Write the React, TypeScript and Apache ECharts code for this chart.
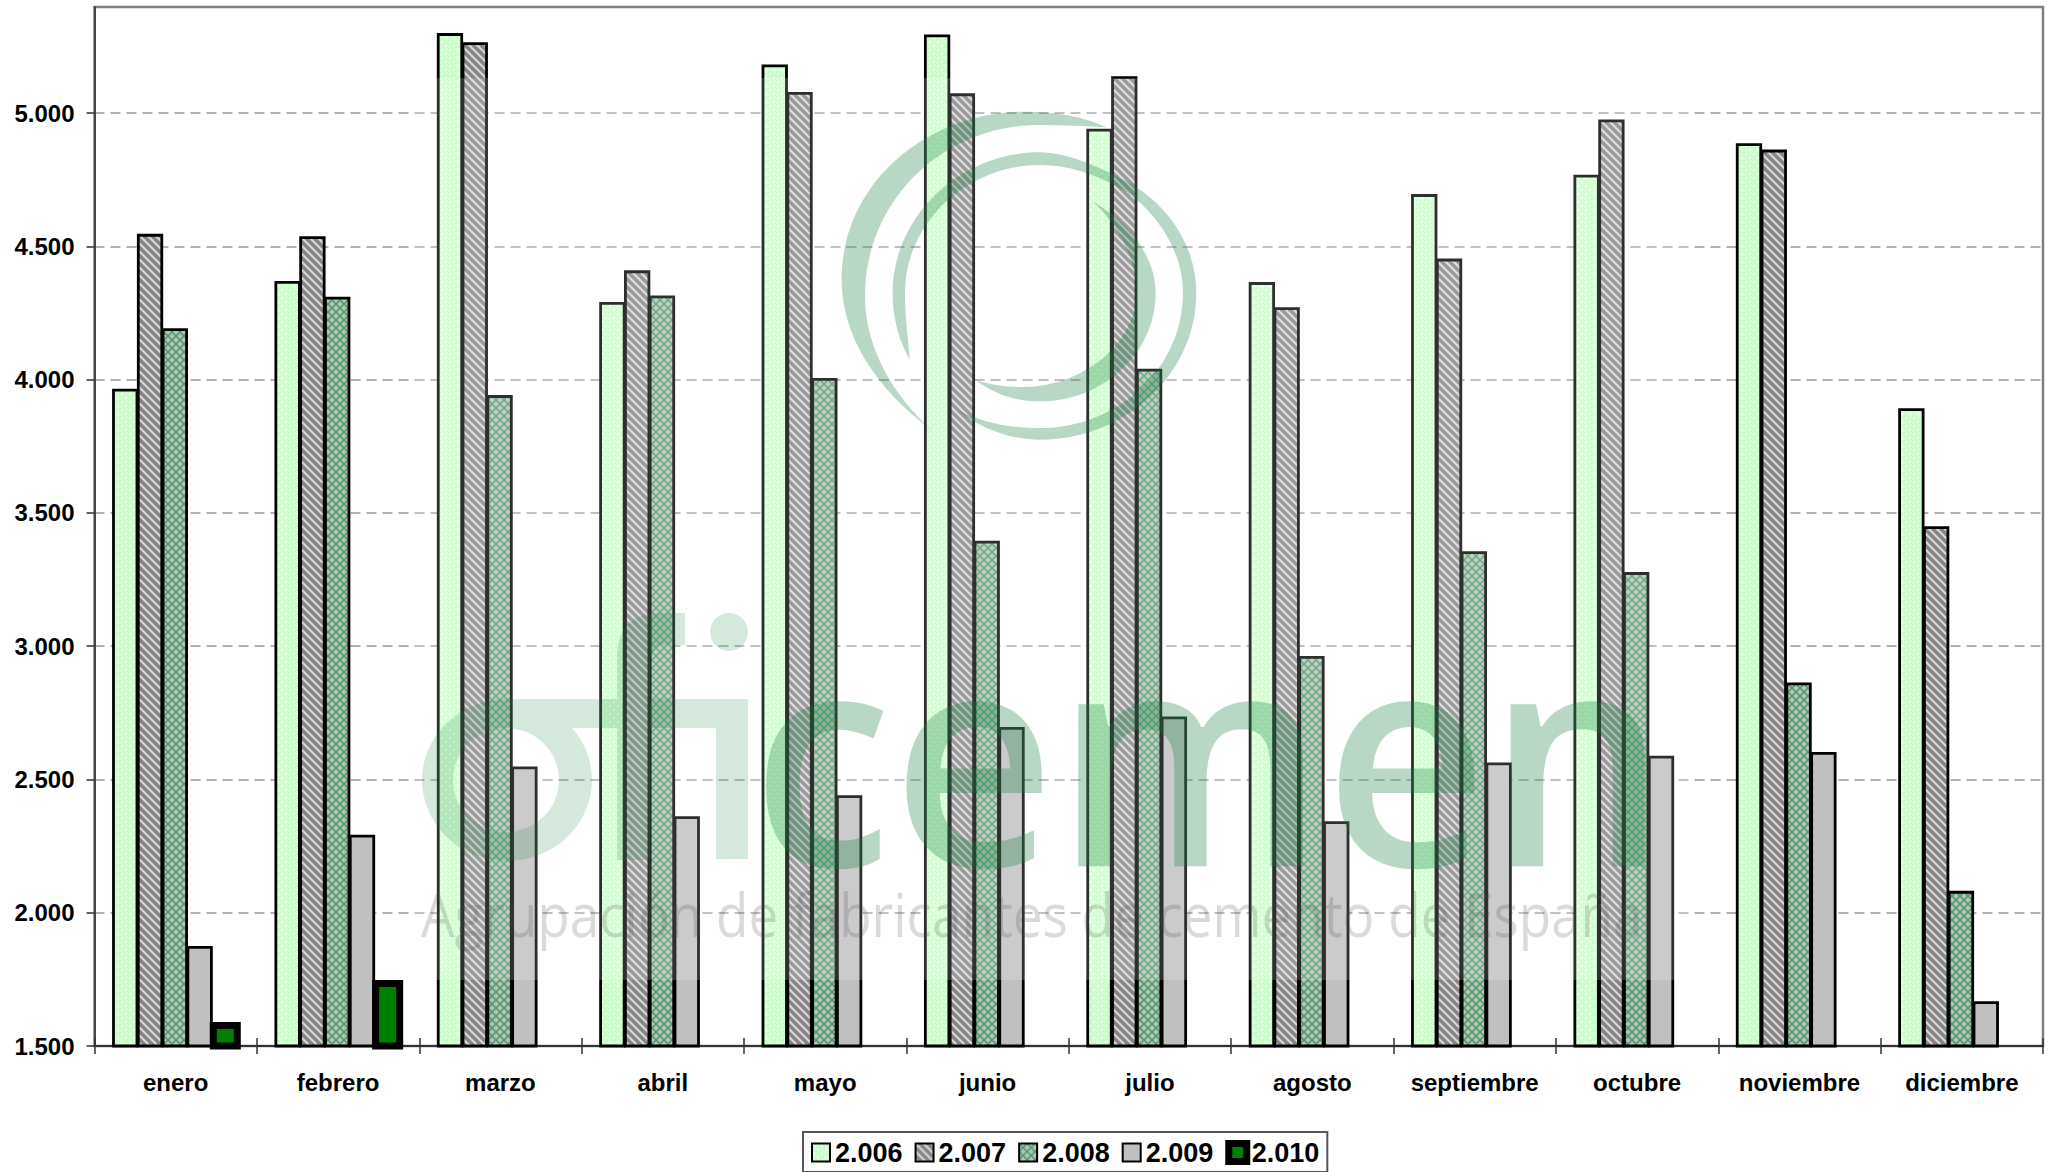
import React, { useEffect, useRef } from "react";
import * as echarts from "echarts";

const categories = ["enero", "febrero", "marzo", "abril", "mayo", "junio", "julio", "agosto", "septiembre", "octubre", "noviembre", "diciembre"];
const years = ["2.006", "2.007", "2.008", "2.009", "2.010"];
const v2006 = [3966, 4370, 5300, 4291, 5182, 5295, 4941, 4366, 4696, 4769, 4887, 3893];
const v2007 = [4547, 4538, 5266, 4410, 5079, 5074, 5138, 4272, 4454, 4976, 4863, 3450];
const v2008 = [4193, 4311, 3942, 4316, 4006, 3396, 4041, 2963, 3356, 3278, 2864, 2082];
const v2009 = [1875, 2293, 2549, 2362, 2441, 2697, 2736, 2343, 2564, 2589, 2603, 1668];
const v2010 = [1590, 1748, null, null, null, null, null, null, null, null, null, null];
const emptySlot = categories.map(() => null);
const yTicks = [1500, 2000, 2500, 3000, 3500, 4000, 4500, 5000];

const tile = (draw: (c: CanvasRenderingContext2D) => void) => {
  const cv = document.createElement("canvas");
  cv.width = 8;
  cv.height = 8;
  draw(cv.getContext("2d")!);
  return { type: "pattern", image: cv, repeat: "repeat", imageWidth: 8, imageHeight: 8 } as any;
};

const fmt = (v: number) => String(v).replace(/(\d)(\d{3})$/, "$1.$2");

const sphereA = "M395 1020 C230 900 125 740 125 570 C125 280 380 65 680 65 C770 65 860 82 920 112 C850 108 790 105 720 105 C420 105 195 340 195 620 C195 770 280 920 395 1020 Z";
const sphereB = "M330 810 C295 750 278 680 278 610 C278 380 480 187 720 187 C800 187 900 230 1000 285 C1120 360 1190 480 1190 610 C1190 850 980 1050 720 1050 C630 1050 540 1015 470 960 C550 1000 630 1015 720 1015 C960 1015 1150 830 1150 610 C1150 480 1070 370 980 305 C890 250 800 225 720 225 C500 225 315 400 315 610 C315 680 325 750 330 810 Z";
const sphereC = "M880 335 C990 400 1068 500 1068 610 C1068 790 910 935 720 935 C640 935 580 910 525 870 C570 885 620 892 665 892 C850 892 1010 760 1010 610 C1010 510 960 410 880 335 Z";
const wordLeft =
  "M422 780 A85 81 0 1 1 592 780 A85 81 0 1 1 422 780 Z " +
  "M453 780 A53 52 0 1 0 559 780 A53 52 0 1 0 453 780 Z " +
  "M507 699 L748 699 L748 859 L716 859 L716 728 L507 728 Z " +
  "M617 860 L617 660 C617 630 630 613 660 613 L685 613 L685 645 L665 645 C655 645 650 650 650 665 L650 860 Z " +
  "M710 632 A19 19 0 1 1 748 632 A19 19 0 1 1 710 632 Z";

echarts.graphic.registerShape("spiralA", echarts.graphic.extendPath(sphereA, {}) as any);
echarts.graphic.registerShape("spiralB", echarts.graphic.extendPath(sphereB, {}) as any);
echarts.graphic.registerShape("spiralC", echarts.graphic.extendPath(sphereC, {}) as any);
echarts.graphic.registerShape("wordLeft", echarts.graphic.extendPath(wordLeft, {}) as any);

export default function App() {
  const ref = useRef<HTMLDivElement>(null);
  useEffect(() => {
    const chart = echarts.init(ref.current!, undefined, { renderer: "svg" });

    const p2006 = tile((c) => {
      c.fillStyle = "#CCFFCC";
      c.fillRect(0, 0, 8, 8);
      c.fillStyle = "#F4FFF4";
      c.fillRect(1, 1, 2, 2);
      c.fillRect(5, 5, 2, 2);
    });
    const p2007 = tile((c) => {
      c.fillStyle = "#868686";
      c.fillRect(0, 0, 8, 8);
      c.strokeStyle = "#DADADA";
      c.lineWidth = 2;
      c.beginPath();
      c.moveTo(-2, -2);
      c.lineTo(10, 10);
      c.moveTo(-2, 6);
      c.lineTo(2, 10);
      c.moveTo(6, -2);
      c.lineTo(10, 2);
      c.stroke();
    });
    const p2008 = tile((c) => {
      c.fillStyle = "#BDBDBD";
      c.fillRect(0, 0, 8, 8);
      c.strokeStyle = "#3F9F5F";
      c.lineWidth = 1.5;
      c.beginPath();
      c.moveTo(0, 0);
      c.lineTo(8, 8);
      c.moveTo(8, 0);
      c.lineTo(0, 8);
      c.stroke();
    });

    const bar = (name: string, data: (number | null)[], color: any, width = 26.3) => ({
      name,
      type: "bar",
      data,
      xAxisIndex: 0,
      barWidth: width,
      barGap: "-5.7%",
      itemStyle: { color, borderColor: "#000", borderWidth: 2.8 },
    });

    const green = "rgba(20,125,62,0.3)";
    const light = "rgba(20,125,62,0.18)";

    chart.setOption({
      animation: false,
      backgroundColor: "#fff",
      grid: { left: 94.5, right: 13, top: 7, height: 1039, show: true, borderColor: "#808080", borderWidth: 2.5, backgroundColor: "#fff" },
      legend: {
        left: 803,
        top: 1132,
        padding: [7, 8, 6, 8],
        orient: "horizontal",
        itemWidth: 18,
        itemHeight: 18,
        itemGap: 12,
        icon: "rect",
        borderColor: "#555",
        borderWidth: 2,
        selectedMode: false,
        data: years.map((name, i) => (i === 4 ? { name, itemStyle: { borderWidth: 7, borderColor: "#000" } } : { name })),
        textStyle: { fontFamily: "Liberation Sans", fontWeight: "bold", fontSize: 27, color: "#000" },
      },
      xAxis: [
        {
          type: "category",
          data: categories,
          position: "bottom",
          axisLine: { show: true, lineStyle: { color: "#333", width: 2 } },
          axisTick: { show: true, length: 8, lineStyle: { color: "#333", width: 1.5 } },
          axisLabel: { fontFamily: "Liberation Sans", fontWeight: "bold", fontSize: 24, color: "#000", margin: 24, interval: 0 },
        },
        {
          type: "category",
          data: categories,
          position: "bottom",
          axisLine: { show: false },
          axisTick: { show: true, inside: true, length: 8, lineStyle: { color: "#333", width: 1.5 } },
          axisLabel: { show: false },
        },
      ],
      yAxis: {
        type: "value",
        min: 1500,
        max: 5398,
        interval: 500,
        axisLine: { show: true, lineStyle: { color: "#444", width: 2 } },
        axisTick: { show: true, length: 8, customValues: yTicks, lineStyle: { color: "#333", width: 1.5 } },
        axisLabel: { fontFamily: "Liberation Sans", fontWeight: "bold", fontSize: 24, color: "#000", margin: 20, customValues: yTicks, formatter: (v: number) => fmt(v) },
        splitLine: { show: true, lineStyle: { color: "#999", width: 1.5, type: [10, 6] } },
      },
      series: [
        bar(years[0], v2006, p2006),
        bar(years[1], v2007, p2007),
        bar(years[2], v2008, p2008),
        bar(years[3], v2009, "#C0C0C0"),
        bar("slot", emptySlot, "#fff", 28),
        { name: "offset", type: "bar", data: emptySlot, xAxisIndex: 1, barWidth: 99.2, barGap: 0, itemStyle: { color: "#fff" } },
        { name: years[4], type: "bar", data: v2010, xAxisIndex: 1, barWidth: 31, barGap: 0, itemStyle: { color: "#008000", borderColor: "#000", borderWidth: 7 } },
      ],
      graphic: [
        { type: "rect", z: 50, silent: true, shape: { x: 410, y: 78, width: 1280, height: 902 }, style: { fill: "rgba(255,255,255,0.18)" } },
        { type: "spiralA", z: 51, silent: true, x: 800, y: 90, scaleX: 1 / 3, scaleY: 1 / 3, style: { fill: green } },
        { type: "spiralB", z: 51, silent: true, x: 800, y: 90, scaleX: 1 / 3, scaleY: 1 / 3, style: { fill: green } },
        { type: "spiralC", z: 51, silent: true, x: 800, y: 90, scaleX: 1 / 3, scaleY: 1 / 3, style: { fill: green } },
        { type: "wordLeft", z: 51, silent: true, x: 0, y: 0, style: { fill: light } },
        {
          type: "text",
          z: 51,
          silent: true,
          x: 752,
          y: 750,
          scaleX: 0.942,
          style: { text: "cemen", fontFamily: "Open Sans", fontSize: 300, fontWeight: 600, fill: green, verticalAlign: "middle", align: "left" },
        },
        {
          type: "text",
          z: 51,
          silent: true,
          x: 421,
          y: 914,
          scaleX: 0.883,
          style: { text: "Agrupación de fabricantes de cemento de España", fontFamily: "Open Sans", fontSize: 60, fill: "rgba(70,70,70,0.2)", verticalAlign: "middle", align: "left" },
        },
      ],
    });
    return () => chart.dispose();
  }, []);
  return <div ref={ref} style={{ position: "absolute", left: 0, top: 0, width: 2056, height: 1172 }} />;
}
